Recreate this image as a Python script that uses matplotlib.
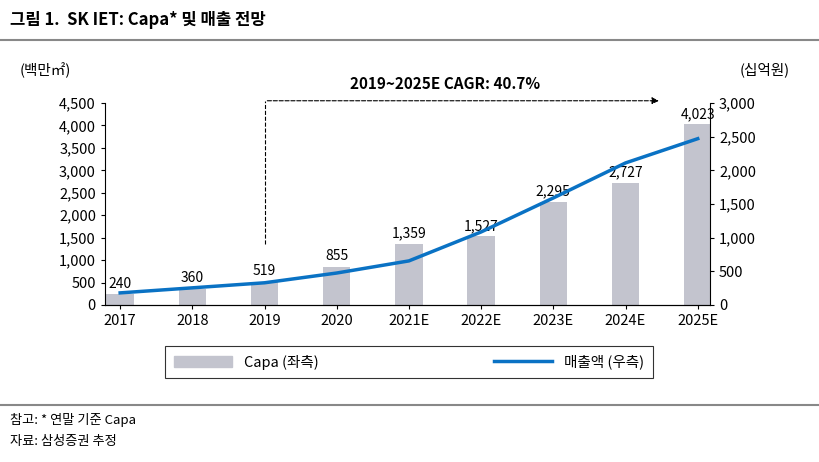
import matplotlib.pyplot as plt
from matplotlib.lines import Line2D
from matplotlib.patches import Patch

plt.rcParams['font.family'] = ['Noto Sans CJK KR', 'DejaVu Sans']

years = ['2017', '2018', '2019', '2020', '2021E', '2022E', '2023E', '2024E', '2025E']
capa = [240, 360, 519, 855, 1359, 1527, 2295, 2727, 4023]
sales = [180, 255, 330, 475, 655, 1085, 1590, 2110, 2470]

fig = plt.figure(figsize=(8.19, 4.62), dpi=100)
ax = fig.add_axes([105 / 819, 1 - 305 / 462, 605 / 819, 202 / 462])
x = range(len(years))
ax.bar(x, capa, width=0.38, color='#c3c4ce', zorder=2)
for i, v in enumerate(capa):
    ax.text(i, v + 80, f"{v:,}", ha='center', va='bottom', fontsize=10)
ax.set_ylim(0, 4500)
ax.set_yticks(range(0, 4501, 500))
ax.set_yticklabels([f"{v:,}" for v in range(0, 4501, 500)], fontsize=10.5)
ax.set_xlim(-0.21, 8.17)
ax.set_xticks(list(x))
ax.set_xticklabels(years, fontsize=10.5)
for s in ['top', 'right']:
    ax.spines[s].set_visible(False)
ax.tick_params(length=3)

ax2 = ax.twinx()
ax2.plot(x, sales, color='#0a72c4', lw=2.5, zorder=3)
ax2.set_ylim(0, 3000)
ax2.set_yticks(range(0, 3001, 500))
ax2.set_yticklabels([f"{v:,}" for v in range(0, 3001, 500)], fontsize=10.5)
for s in ['top', 'left']:
    ax2.spines[s].set_visible(False)
ax2.tick_params(length=3)

# CAGR arrow
ax.plot([2, 2], [1350, 4550], ls='--', color='black', lw=0.8, clip_on=False)
ax.annotate('', xy=(7.5, 4550), xytext=(2, 4550),
            arrowprops=dict(arrowstyle='-|>', ls='--', color='black', lw=0.8),
            annotation_clip=False)
ax.text(4.5, 4750, '2019~2025E CAGR: 40.7%', ha='center', va='bottom',
        fontsize=11, fontweight='bold')

fig.text(20 / 819, 1 - 70 / 462, '(백만㎡)', fontsize=10.5, va='center')
fig.text(765 / 819, 1 - 70 / 462, '(십억원)', fontsize=10.5, va='center', ha='center')

fig.text(10 / 819, 1 - 20 / 462, '그림 1.  SK IET: Capa* 및 매출 전망', fontsize=12,
         fontweight='bold', va='center')
fig.add_artist(Line2D([0, 1], [1 - 40 / 462] * 2, color='#888888', lw=1.5))
fig.add_artist(Line2D([0, 1], [1 - 405 / 462] * 2, color='#888888', lw=1.5))

handles = [Patch(color='#c3c4ce', label='Capa (좌측)'),
           Line2D([], [], color='#0a72c4', lw=2.5, label='매출액 (우측)')]
leg = fig.legend(handles=handles, loc='center', bbox_to_anchor=(409 / 819, 1 - 362 / 462),
                 ncol=2, fontsize=10.5, frameon=True, fancybox=False,
                 edgecolor='black', columnspacing=12, handlelength=4,
                 borderpad=0.6, borderaxespad=0)
leg.get_frame().set_linewidth(0.8)
fig.canvas.draw()
# widen the legend box to match the reference frame
leg._legend_box.set_width = None
bb = leg.get_window_extent()
leg.get_frame().set_bounds(82, bb.y0, 653, bb.height)

fig.text(10 / 819, 1 - 420 / 462, '참고: * 연말 기준 Capa', fontsize=9.5, va='center')
fig.text(10 / 819, 1 - 442 / 462, '자료: 삼성증권 추정', fontsize=9.5, va='center')

fig.savefig('out.png', dpi=100)
